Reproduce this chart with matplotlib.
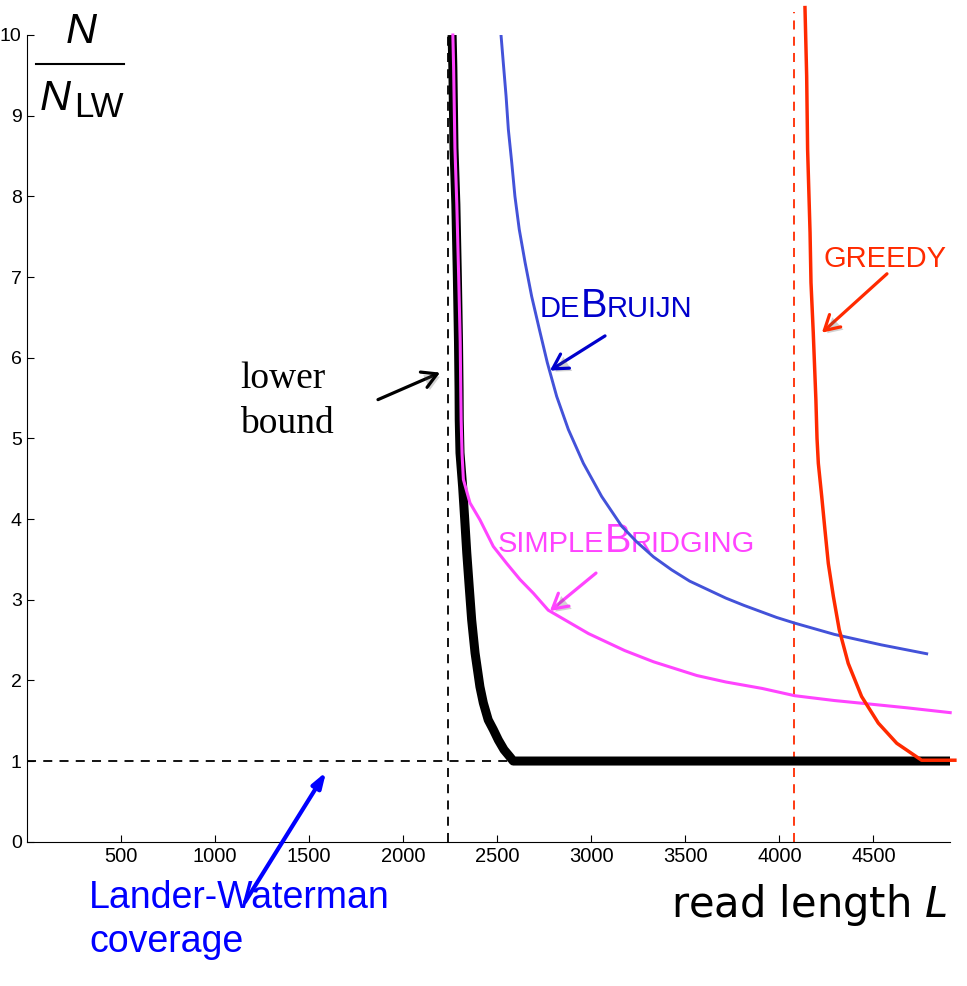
import matplotlib
matplotlib.use("Agg")
import matplotlib.pyplot as plt
from matplotlib.lines import Line2D
from matplotlib.transforms import offset_copy
import matplotlib.patheffects as pe

plt.rcParams['font.family'] = ['Liberation Sans', 'DejaVu Sans']

# ---- data ----
lw_coverage = 1.0          # N / N_LW of the Lander-Waterman coverage
lower_bound_L = 2240       # dashed vertical, lower bound
greedy_L = 4075            # red dashed vertical

# lower bound (thick black)
lb_x = [2260, 2264, 2270, 2280, 2288, 2294, 2297, 2298, 2302, 2316, 2327, 2338,
        2351, 2364, 2382, 2408, 2426, 2452, 2479, 2506, 2536, 2568, 2585, 4907]
lb_y = [10.0, 9.6, 8.6, 7.9, 7.0, 6.2, 5.6, 5.23, 4.82, 4.40, 4.0, 3.58,
        3.16, 2.75, 2.34, 1.92, 1.72, 1.51, 1.39, 1.26, 1.14, 1.05, 1.0, 1.0]

# simpleBridging (magenta)
sb_x = [2264, 2268, 2275, 2285, 2295, 2303, 2306, 2308, 2313, 2320, 2355, 2408,
        2479, 2550, 2621, 2692, 2771, 2985, 3177, 3331, 3561, 3715, 3908, 4081,
        4292, 4465, 4677, 4908]
sb_y = [10.0, 9.6, 8.6, 7.9, 7.0, 6.2, 5.6, 5.23, 4.8, 4.49, 4.20, 3.99,
        3.66, 3.45, 3.25, 3.08, 2.87, 2.58, 2.37, 2.23, 2.06, 1.98, 1.90, 1.81,
        1.75, 1.71, 1.66, 1.60]

# deBruijn (blue)
db_x = [2520, 2532, 2547, 2559, 2577, 2594, 2617, 2648, 2683, 2724, 2766, 2816,
        2878, 2958, 3055, 3162, 3240, 3331, 3427, 3523, 3715, 3811, 3985, 4081,
        4292, 4542, 4783]
db_y = [10.0, 9.66, 9.24, 8.83, 8.42, 8.00, 7.59, 7.18, 6.76, 6.35, 5.94, 5.52,
        5.11, 4.69, 4.28, 3.91, 3.72, 3.53, 3.37, 3.23, 3.02, 2.93, 2.78, 2.71,
        2.57, 2.44, 2.33]

# greedy (red)
gr_x = [4136, 4145, 4150, 4163, 4168, 4180, 4194, 4200, 4207, 4225, 4242, 4260,
        4287, 4318, 4366, 4437, 4526, 4624, 4712, 4756, 4933]
gr_y = [10.34, 9.49, 8.58, 7.55, 6.93, 6.31, 5.48, 5.0, 4.69, 4.28, 3.87, 3.45,
        3.04, 2.63, 2.21, 1.80, 1.47, 1.22, 1.08, 1.01, 1.01]

x_ticks = [500, 1000, 1500, 2000, 2500, 3000, 3500, 4000, 4500]
y_ticks = list(range(0, 11))

pink = '#ff44ff'
blue_line = '#4352d9'
red = '#ff2a00'

fig = plt.figure(figsize=(9.67, 9.86), dpi=100)
ax = fig.add_axes([27 / 967, 1 - 841.7 / 986, 923 / 967, 806.7 / 986])
ax.set_xlim(0, 4907)
ax.set_ylim(0, 10)
for s in ['top', 'right']:
    ax.spines[s].set_visible(False)
ax.set_xticks(x_ticks)
ax.set_yticks(y_ticks)
ax.tick_params(direction='in', length=5, width=0.8)
ax.tick_params(axis='x', labelsize=14.5, pad=3.5)
ax.tick_params(axis='y', labelsize=14, pad=3.8)

# dashed guides
ax.plot([0, 2560], [lw_coverage, lw_coverage], color='k', lw=1.3, dashes=(5, 4), zorder=2)
ax.plot([lower_bound_L, lower_bound_L], [0, 10], color='k', lw=1.3, dashes=(5, 4), zorder=2)
ax.plot([greedy_L, greedy_L], [0, 10.28], color=red, lw=1.3, dashes=(5, 4),
        clip_on=False, zorder=2)

# curves
ax.plot(lb_x, lb_y, color='k', lw=6.5, solid_capstyle='butt', solid_joinstyle='round', zorder=3)
ax.plot(sb_x, sb_y, color=pink, lw=2.2, zorder=4, clip_on=False)
ax.plot(db_x, db_y, color=blue_line, lw=2.1, zorder=4)
ax.plot(gr_x, gr_y, color=red, lw=2.5, zorder=5, clip_on=False)

shadow = [pe.SimplePatchShadow(offset=(2, -2), alpha=0.25), pe.Normal()]


def arrow(tip, start, color, style='->,head_length=1.05,head_width=0.6', lw=2.3, fx=shadow):
    a = ax.annotate('', xy=tip, xytext=start, annotation_clip=False,
                    arrowprops=dict(arrowstyle=style, color=color, lw=lw,
                                    mutation_scale=10, shrinkA=0, shrinkB=0))
    if fx:
        a.arrow_patch.set_path_effects(fx)
    return a


def caps(x, y, parts, color):
    renderer = fig.canvas.get_renderer()
    dx = 0
    for s, size in parts:
        tr = offset_copy(ax.transData, fig=fig, x=dx, y=0, units='dots')
        t = ax.text(x, y, s, fontsize=size, color=color, va='baseline',
                    ha='left', transform=tr)
        dx += t.get_window_extent(renderer).width


# annotations
ax.text(1132, 5.625, 'lower', family='Liberation Serif', fontsize=27, va='baseline')
ax.text(1132, 5.068, 'bound', family='Liberation Serif', fontsize=27, va='baseline')
arrow((2196, 5.815), (1866, 5.48), 'k')

caps(2727, 6.507, [('DE', 21), ('B', 28.5), ('RUIJN', 21)], '#0000cc')
arrow((2780, 5.84), (3073, 6.27), '#0000cc')

caps(2504, 3.595, [('SIMPLE', 21), ('B', 28.5), ('RIDGING', 21)], pink)
arrow((2780, 2.86), (3025, 3.33), pink)

caps(4232, 7.13, [('GREEDY', 21)], red)
arrow((4226, 6.31), (4572, 7.04), red)

arrow((1590, 0.865), (1159, -0.748), '#0000ff',
      style='-|>,head_length=0.9,head_width=0.3', lw=3, fx=None)

# y label as fraction N / N_LW
fig.text(81 / 967, 1 - 43 / 986, 'N', style='italic', fontsize=31, ha='center', va='baseline')
fig.add_artist(Line2D([36 / 967, 124 / 967], [1 - 64 / 986, 1 - 64 / 986],
                      color='k', lw=1.5, transform=fig.transFigure))
fig.text(40 / 967, 1 - 110 / 986, 'N', style='italic', fontsize=31, ha='left', va='baseline')
fig.text(74 / 967, 1 - 117 / 986, 'LW', fontsize=25, ha='left', va='baseline')

# outside labels
fig.text(89 / 967, 1 - 908.3 / 986, 'Lander-Waterman', color='#0000ff', fontsize=27,
         va='baseline')
fig.text(89 / 967, 1 - 951.7 / 986, 'coverage', color='#0000ff', fontsize=27,
         va='baseline')
fig.text(947 / 967, 1 - 916.7 / 986, 'read length $L$', family='DejaVu Sans',
         fontsize=30, ha='right', va='baseline')

fig.savefig('out.png', dpi=100)
